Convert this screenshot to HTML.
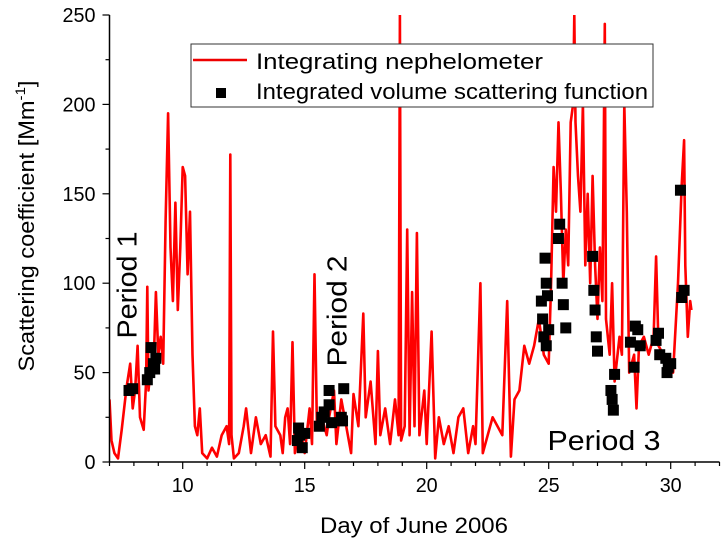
<!DOCTYPE html>
<html><head><meta charset="utf-8"><style>
html,body{margin:0;padding:0;background:#fff;}
svg text{font-family:"Liberation Sans",Arial,sans-serif;fill:#000;}
</style></head><body>
<svg id="chart" width="724" height="548" viewBox="0 0 724 548">
  <g id="plot"></g>
  <g id="axes"></g>
  <text x="127" y="285" font-size="28" text-anchor="middle" dominant-baseline="central" textLength="107" lengthAdjust="spacingAndGlyphs" transform="rotate(-90 127 285)">Period 1</text>
  <text x="337" y="311" font-size="28" text-anchor="middle" dominant-baseline="central" textLength="111" lengthAdjust="spacingAndGlyphs" transform="rotate(-90 337 311)">Period 2</text>
  <text x="604" y="450" font-size="28" text-anchor="middle" textLength="113" lengthAdjust="spacingAndGlyphs">Period 3</text>
  <text x="34" y="226" font-size="22" text-anchor="middle" textLength="291" lengthAdjust="spacingAndGlyphs" transform="rotate(-90 34 226)">Scattering coefficient [Mm<tspan font-size="14" dy="-9">-1</tspan><tspan dy="9">]</tspan></text>
  <text x="414" y="533" font-size="22" text-anchor="middle" textLength="188" lengthAdjust="spacingAndGlyphs">Day of June 2006</text>
  <g>
    <rect x="191" y="44" width="462" height="63" fill="#fff" stroke="#333" stroke-width="1"/>
    <line x1="193" y1="60" x2="247" y2="60" stroke="#e00" stroke-width="2.5"/>
    <text x="256" y="69" font-size="22" textLength="287" lengthAdjust="spacingAndGlyphs">Integrating nephelometer</text>
    <rect x="216" y="88" width="10" height="10" fill="#000"/>
    <text x="256" y="99" font-size="22" textLength="392" lengthAdjust="spacingAndGlyphs">Integrated volume scattering function</text>
  </g>
</svg>
<script>
const xTicks = [10, 15, 20, 25, 30];
const yTicks = [0, 50, 100, 150, 200, 250];
const nephDays = [7.0,7.08,7.2,7.35,7.5,7.7,7.85,7.95,8.05,8.15,8.25,8.4,8.5,8.55,8.6,8.7,8.8,8.9,9.0,9.1,9.2,9.3,9.4,9.5,9.6,9.7,9.8,9.9,10.0,10.1,10.2,10.3,10.4,10.5,10.6,10.7,10.8,11.0,11.2,11.4,11.6,11.8,11.9,11.95,12.0,12.1,12.3,12.5,12.6,12.8,13.0,13.2,13.4,13.6,13.7,13.8,14.0,14.1,14.2,14.3,14.4,14.5,14.6,14.8,15.0,15.2,15.3,15.4,15.5,15.7,15.9,16.0,16.2,16.3,16.5,16.7,16.9,17.0,17.2,17.4,17.5,17.7,17.9,18.0,18.1,18.3,18.5,18.7,18.85,18.9,18.95,19.1,19.2,19.3,19.4,19.5,19.6,19.7,19.9,20.0,20.2,20.35,20.5,20.7,20.9,21.1,21.3,21.5,21.7,21.9,22.0,22.2,22.3,22.5,22.7,22.9,23.1,23.3,23.45,23.6,23.8,24.0,24.2,24.4,24.6,24.8,25.0,25.1,25.2,25.3,25.4,25.5,25.6,25.7,25.8,25.9,26.0,26.05,26.1,26.2,26.3,26.4,26.5,26.6,26.7,26.8,26.9,27.0,27.1,27.2,27.3,27.35,27.5,27.6,27.7,27.9,28.0,28.1,28.2,28.3,28.5,28.6,28.7,28.9,29.1,29.3,29.4,29.5,29.7,29.9,30.1,30.3,30.45,30.55,30.6,30.7,30.8,30.85];
const nephValues = [35,12,5,2,18,42,55,30,40,65,25,18,45,98,40,55,50,95,60,70,55,135,195,120,90,145,85,120,165,160,105,140,60,20,15,30,5,2,8,3,15,20,10,172,15,2,5,20,30,5,25,10,15,3,73,20,15,5,25,30,10,67,5,20,5,30,10,105,20,25,15,25,40,10,35,20,5,38,20,83,25,45,10,62,15,30,10,35,15,250,12,20,130,15,95,20,128,15,40,10,73,2,25,10,20,5,25,30,5,20,10,100,5,15,25,20,15,90,3,35,40,65,55,65,80,60,55,100,165,140,190,150,100,130,110,190,200,250,190,160,140,200,110,150,100,160,110,80,120,90,245,80,60,100,45,70,60,200,140,50,60,30,65,70,60,70,115,65,60,55,50,100,155,180,110,70,90,85];
const ivsfDays = [7.8,7.95,8.55,8.65,8.7,8.8,8.9,8.85,14.7,14.8,14.9,15.0,14.75,15.6,15.7,15.8,16.0,16.0,16.1,16.5,16.6,16.55,24.7,24.75,24.8,24.85,24.9,24.95,25.0,24.9,25.4,25.45,25.55,25.6,25.7,26.8,26.85,26.9,26.95,27.0,27.55,27.6,27.65,27.7,28.5,28.55,28.65,28.35,28.75,29.4,29.5,29.55,29.8,29.9,30.0,29.85,30.4,30.45,30.55];
const ivsfValues = [40,41,46,50,64,55,58,52,12,15,8,16,19,20,25,28,40,32,22,25,41,23,90,80,70,114,100,93,74,65,125,133,100,88,75,115,96,85,70,62,40,35,29,49,53,76,74,67,65,68,72,60,58,53,55,50,152,92,96];

const X0=109.5, X1=719.5, XMIN=7, XMAX=32;
const Y0=462, Y1=15, YMIN=0, YMAX=250;
function xs(d){return X0+(d-XMIN)/(XMAX-XMIN)*(X1-X0);}
function ys(v){return Y0-(v-YMIN)/(YMAX-YMIN)*(Y0-Y1);}
const NS="http://www.w3.org/2000/svg";
const plot=document.getElementById('plot'), axes=document.getElementById('axes');
function mk(tag,attrs,parent){const e=document.createElementNS(NS,tag);for(const k in attrs)e.setAttribute(k,attrs[k]);parent.appendChild(e);return e;}

const clip=mk('clipPath',{id:'clp'},plot);
mk('rect',{x:X0,y:Y1,width:X1-X0,height:Y0-Y1},clip);
const g=mk('g',{'clip-path':'url(#clp)'},plot);
let d='';
nephDays.forEach((day,i)=>{d+=(i?'L':'M')+xs(day).toFixed(1)+','+ys(nephValues[i]).toFixed(1);});
const line=mk('path',{d:d,fill:'none',stroke:'#f00','stroke-width':2.6,'stroke-linejoin':'round'},g);


ivsfDays.forEach((day,i)=>{
  const r=mk('rect',{x:xs(day)-5.5,y:ys(ivsfValues[i])-5.5,width:11,height:11,fill:'#000'},g);
  
  
});

const ax=mk('line',{x1:X0,y1:Y0,x2:X1,y2:Y0,stroke:'#000','stroke-width':1.5},axes);


const ay=mk('line',{x1:X0,y1:Y0,x2:X0,y2:Y1,stroke:'#000','stroke-width':1.5},axes);


for(let dd=XMIN; dd<=XMAX; dd++){
  const major=xTicks.indexOf(dd)>=0;
  mk('line',{x1:xs(dd),y1:Y0,x2:xs(dd),y2:Y0+(major?7:4),stroke:'#000','stroke-width':1.2},axes);
}
xTicks.forEach(t=>{
  const tx=mk('text',{x:xs(t),y:Y0+30,'font-size':20,'text-anchor':'middle',textLength:22,lengthAdjust:'spacingAndGlyphs'},axes);
  tx.textContent=t;
  
  
});
for(let v=0; v<=YMAX; v+=25){
  const major=yTicks.indexOf(v)>=0;
  mk('line',{x1:X0-(major?7:4),y1:ys(v),x2:X0,y2:ys(v),stroke:'#000','stroke-width':1.2},axes);
}
yTicks.forEach(t=>{
  const w=String(t).length*11;
  const tx=mk('text',{x:X0-14,y:ys(t)+7,'font-size':20,'text-anchor':'end',textLength:w,lengthAdjust:'spacingAndGlyphs'},axes);
  tx.textContent=t;
  
  
});
</script>
</body></html>
